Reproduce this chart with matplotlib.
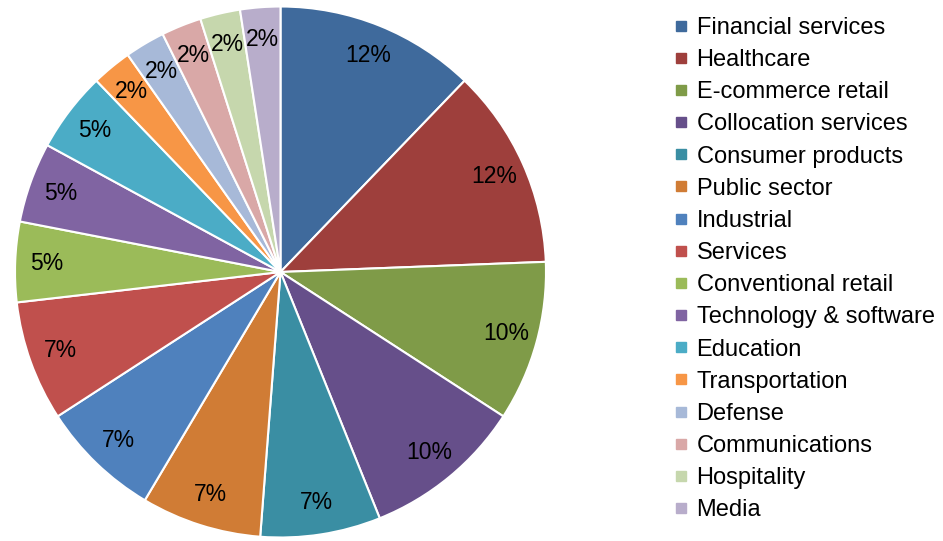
import matplotlib
matplotlib.use("Agg")
import matplotlib.pyplot as plt
from matplotlib.lines import Line2D

plt.rcParams['font.family'] = ['Liberation Sans', 'DejaVu Sans']

categories = ["Financial services", "Healthcare", "E-commerce retail", "Collocation services",
              "Consumer products", "Public sector", "Industrial", "Services",
              "Conventional retail", "Technology & software", "Education", "Transportation",
              "Defense", "Communications", "Hospitality", "Media"]
values = [5, 5, 4, 4, 3, 3, 3, 3, 2, 2, 2, 1, 1, 1, 1, 1]
colors = ["#3F6A9C", "#9E3F3C", "#7F9B48", "#664F8A", "#3A8EA3", "#D07C35",
          "#4F81BD", "#C0504D", "#9BBB59", "#8064A2", "#4BACC6", "#F79646",
          "#A7B9D8", "#D9A8A7", "#C6D7AD", "#B8ADCB"]

W, H = 943, 541
fig = plt.figure(figsize=(W/100, H/100), dpi=100)
cx, cy, r = 280.5, 272, 265.5
ax = fig.add_axes([(cx - r)/W, (H - cy - r)/H, 2*r/W, 2*r/H])
wedges, texts, autotexts = ax.pie(values, colors=colors, startangle=90, counterclock=False,
       autopct=lambda p: f"{p:.0f}%", pctdistance=0.88,
       wedgeprops=dict(edgecolor="white", linewidth=1.5),
       textprops=dict(fontsize=16.5, color="black"))
ax.set_xlim(-1, 1)
ax.set_ylim(-1, 1)
ax.set_aspect('equal')
ax.axis('off')

handles = [Line2D([0], [0], marker='s', linestyle='none', markersize=7,
                  markerfacecolor=c, markeredgecolor=c) for c in colors]
fig.legend(handles, categories, loc='upper left', bbox_to_anchor=(673/W, 1 - 17/H),
           frameon=False, fontsize=17, handlelength=0.7, handletextpad=0.3,
           labelspacing=0.43, borderpad=0, borderaxespad=0)

fig.savefig("out.png", dpi=100)
